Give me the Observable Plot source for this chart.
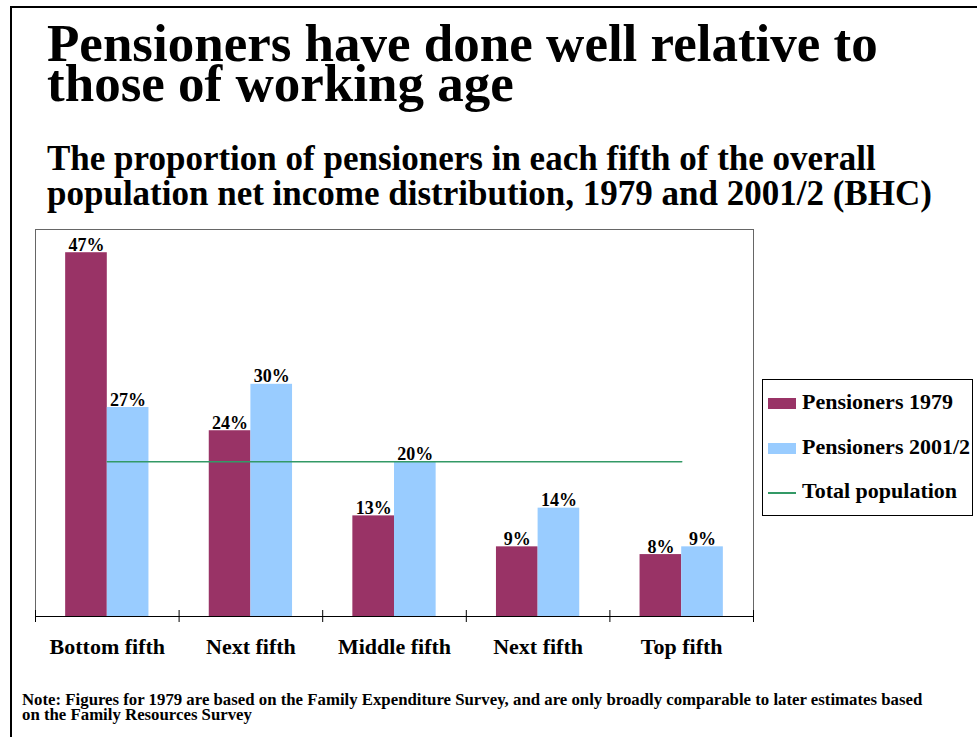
<!DOCTYPE html>
<html>
<head>
<meta charset="utf-8">
<script src="https://cdn.jsdelivr.net/npm/d3@7"></script>
<script src="https://cdn.jsdelivr.net/npm/@observablehq/plot@0.6"></script>
<style>
  html, body { margin: 0; padding: 0; background: #fff; }
  body { width: 977px; height: 737px; position: relative; overflow: hidden; font-family: "Liberation Serif", serif; color: #000; }
  #frame { position: absolute; left: 10px; top: 6px; width: 980px; height: 740px; border-left: 2px solid #000; border-top: 2px solid #000; }
  #title { position: absolute; left: 47px; top: 23px; font-size: 53px; line-height: 40px; font-weight: bold; white-space: nowrap; }
  #subtitle { position: absolute; left: 47px; top: 141px; font-size: 35px; line-height: 35px; font-weight: bold; white-space: nowrap; }
  #chart { position: absolute; left: 0; top: 210px; }
  #legend { position: absolute; left: 762px; top: 379px; width: 211px; height: 137px; border: 1px solid #000; box-sizing: border-box; }
  .item { position: absolute; left: 5px; height: 24px; font-size: 22px; font-weight: bold; line-height: 24px; white-space: nowrap; }
  .sw { position: absolute; left: 0; width: 28px; }
  .lab { position: absolute; left: 34px; top: 0; }
  #note { position: absolute; left: 22px; top: 693px; font-size: 16.8px; line-height: 14.5px; font-weight: bold; white-space: nowrap; }
</style>
</head>
<body>
<div id="frame"></div>
<div id="title">Pensioners have done well relative to<br>those of working age</div>
<div id="subtitle">The proportion of pensioners in each fifth of the overall<br>population net income distribution, 1979 and 2001/2 (BHC)</div>
<div id="chart"></div>
<div id="legend"></div>
<div id="note">Note: Figures for 1979 are based on the Family Expenditure Survey, and are only broadly comparable to later estimates based<br>on the Family Resources Survey</div>
<script>
// ---- data ----
const categories = ["Bottom fifth", "Next fifth", "Middle fifth", "Next fifth", "Top fifth"];
const pensioners1979 = [47, 24, 13, 9, 8];
const pensioners2001 = [27, 30, 20, 14, 9];
const totalPopulation = [20, 20, 20, 20, 20];
const seriesNames = ["Pensioners 1979", "Pensioners 2001/2", "Total population"];
const seriesColors = ["#993366", "#99CCFF", "#339966"];

// ---- build table ----
const BAR = 0.29; // bar width as a fraction of a category band
const rows = categories.flatMap((c, i) => [
  {i, cat: c, series: seriesNames[0], s: 0, value: pensioners1979[i]},
  {i, cat: c, series: seriesNames[1], s: 1, value: pensioners2001[i]}
]);
const font = "Liberation Serif, serif";

const chart = Plot.plot({
  width: 760,
  height: 460,
  marginLeft: 35,
  marginRight: 7,
  marginTop: 19,
  marginBottom: 54,
  style: {fontFamily: font, background: "transparent"},
  x: {domain: [0, categories.length], axis: null},
  y: {domain: [0, 50], axis: null},
  color: {domain: seriesNames, range: seriesColors},
  marks: [
    Plot.frame({stroke: "#666"}),
    Plot.rectY(rows, {
      x1: d => d.i + 0.5 - (d.s === 0 ? BAR : 0),
      x2: d => d.i + 0.5 + (d.s === 0 ? 0 : BAR),
      y: "value",
      fill: "series"
    }),
    Plot.lineY(totalPopulation, {x: (d, i) => i + 0.5, y: d => d, stroke: seriesColors[2], strokeWidth: 1.6}),
    Plot.text(rows, {
      x: d => d.i + 0.5 + (d.s === 0 ? -BAR / 2 : BAR / 2),
      y: "value",
      text: d => d.value + "%",
      lineAnchor: "bottom",
      dy: -2,
      fontSize: 18,
      fontWeight: "bold",
      fill: "#000"
    }),
    Plot.ruleY([0], {stroke: "#000"}),
    Plot.ruleX(d3.range(categories.length + 1), {x: d => d, y1: 0, y2: 0, insetTop: -6, insetBottom: -6, stroke: "#000"}),
    Plot.axisX({
      ticks: categories.map((c, i) => i + 0.5),
      tickFormat: d => categories[Math.round(d - 0.5)],
      tickSize: 0,
      tickPadding: 22,
      fontSize: 22,
      fontWeight: "bold",
      fill: "#000"
    })
  ]
});
document.getElementById("chart").appendChild(chart);

// ---- legend ----
const legend = document.getElementById("legend");
const rowsTop = [10, 55, 99];
seriesNames.forEach((name, k) => {
  const it = document.createElement("div");
  it.className = "item";
  it.style.top = rowsTop[k] + "px";
  const sw = document.createElement("div");
  sw.className = "sw";
  sw.style.background = seriesColors[k];
  if (k < 2) { sw.style.top = "8px"; sw.style.height = "11px"; }
  else { sw.style.top = "13px"; sw.style.height = "2px"; }
  const lab = document.createElement("div");
  lab.className = "lab";
  lab.textContent = name;
  it.appendChild(sw); it.appendChild(lab);
  legend.appendChild(it);
});
</script>
</body>
</html>
